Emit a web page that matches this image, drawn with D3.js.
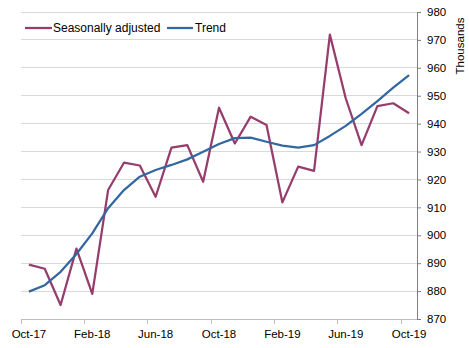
<!DOCTYPE html>
<html><head><meta charset="utf-8">
<script src="https://cdn.jsdelivr.net/npm/d3@7"></script>
<style>body{margin:0;background:#fff}svg{display:block}text{font-family:"Liberation Sans",Arial,sans-serif}</style>
</head><body><svg id="c" width="469" height="348"></svg>
<script>
const categories = ["Oct-17","Nov-17","Dec-17","Jan-18","Feb-18","Mar-18","Apr-18","May-18","Jun-18","Jul-18","Aug-18","Sep-18","Oct-18","Nov-18","Dec-18","Jan-19","Feb-19","Mar-19","Apr-19","May-19","Jun-19","Jul-19","Aug-19","Sep-19","Oct-19"];
const seasonallyAdjusted = [889.5,888.0,875.0,895.2,879.0,916.2,926.0,925.0,913.8,931.4,932.3,919.2,945.7,932.9,942.5,939.5,911.8,924.6,923.1,971.9,949.1,932.3,946.3,947.3,943.7];
const trend = [879.8,882.1,886.9,893.3,900.7,909.7,916.2,921.0,923.4,925.2,927.2,929.9,932.7,934.8,935.0,933.5,932.1,931.4,932.3,935.6,939.2,943.5,948.1,952.9,957.4];
const yTicks = [870,880,890,900,910,920,930,940,950,960,970,980];
const xLabels = ["Oct-17","Feb-18","Jun-18","Oct-18","Feb-19","Jun-19","Oct-19"];
const seriesNames = ["Seasonally adjusted","Trend"];
const colors = ["#963d6d","#33679f"];

const svg = d3.select("#c");
const L = 21, R = 417, T = 12, B = 319;
const x = d3.scaleBand().domain(categories).range([L,R]).padding(0);
const bw = x.bandwidth();
const cx = c => x(c) + bw/2;
const y = d3.scaleLinear().domain([870,980]).range([B,T]);

// gridlines
svg.append("g").selectAll("line").data(yTicks.filter(v=>v>870)).join("line")
  .attr("x1",L).attr("x2",R).attr("y1",d=>y(d)).attr("y2",d=>y(d))
  .attr("stroke","#d9d9d9").attr("stroke-width",1).attr("shape-rendering","crispEdges");

// x axis
const xa = svg.append("g").attr("transform",`translate(0,${B})`)
  .call(d3.axisBottom(x).tickValues(xLabels).tickSize(0).tickPadding(11));
xa.select(".domain").attr("stroke","#bfbfbf").attr("d",`M${L},0.5H${R}`);
xa.selectAll("text").attr("font-size","11.5px").attr("fill","#000");
xa.selectAll(".tick").append("line").attr("x1",-bw/2).attr("x2",-bw/2).attr("y1",0).attr("y2",5)
  .attr("stroke","#bfbfbf").attr("shape-rendering","crispEdges");

// right axis
const ya = svg.append("g").attr("transform",`translate(${R},0)`)
  .call(d3.axisRight(y).tickValues(yTicks).tickSize(4).tickPadding(6).tickSizeOuter(0));
ya.select(".domain").attr("stroke","#7f7f7f");
ya.selectAll(".tick line").attr("stroke","#7f7f7f");
ya.selectAll("text").attr("font-size","11.5px").attr("fill","#000");
svg.append("text").attr("transform","translate(464,46) rotate(-90)")
  .attr("text-anchor","middle").attr("font-size","11.5px").text("Thousands");

// lines
const line = d3.line().x((d,i)=>cx(categories[i])).y(d=>y(d));
[seasonallyAdjusted, trend].forEach((s,k)=>{
  svg.append("path").datum(s).attr("d",line).attr("fill","none")
    .attr("stroke",colors[k]).attr("stroke-width",2.25).attr("stroke-linejoin","round");
});

// legend
const lg = [{x:25,w:27,tx:53},{x:167,w:26,tx:195}];
seriesNames.forEach((n,k)=>{
  svg.append("line").attr("x1",lg[k].x).attr("x2",lg[k].x+lg[k].w).attr("y1",28).attr("y2",28)
    .attr("stroke",colors[k]).attr("stroke-width",2.25);
  svg.append("text").attr("x",lg[k].tx).attr("y",32).attr("font-size","12px").text(n);
});
</script></body></html>
